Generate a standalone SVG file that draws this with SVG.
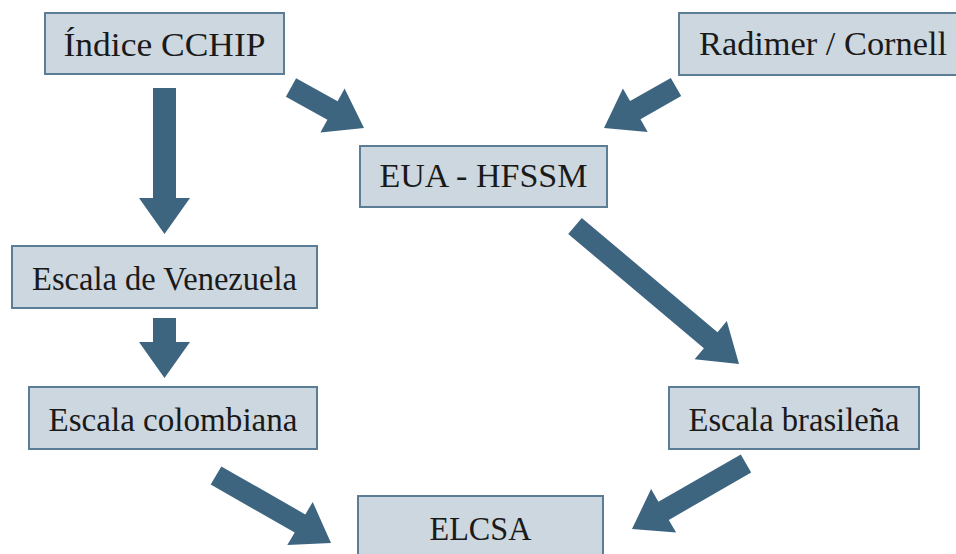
<svg xmlns="http://www.w3.org/2000/svg" width="956" height="554" viewBox="0 0 956 554">
<style>
.box{fill:#cdd7df;stroke:#5b7d95;stroke-width:2}
.lbl{font-family:"Liberation Serif","Times New Roman",serif;font-size:33px;fill:#1a1a1a;text-anchor:middle}
.arr{fill:#3e6580}
</style>
<rect width="956" height="554" fill="#ffffff"/>
<g id="connectors">
<polygon class="arr" points="285.9,96.7 327.4,119.7 320.4,132.4 364,128 344.6,88.6 337.6,101.3 296.1,78.3"/>
<polygon class="arr" points="670.8,77.9 630.1,101.1 622.9,88.5 604,128 647.7,131.9 640.5,119.3 681.2,96.1"/>
<polygon class="arr" points="153,88 176,88 176,198 190,198 164.5,234 139,198 153,198"/>
<polygon class="arr" points="153,318 176,318 176,342 190,342 164.5,378 139,342 153,342"/>
<polygon class="arr" points="568.2,234 703.9,348.2 694.6,359.3 739,364 726.8,321.1 717.5,332.2 581.8,218"/>
<polygon class="arr" points="210.7,484.6 294.7,532.6 287.3,545.1 331,543 312.7,501.9 305.3,514.4 221.3,466.4"/>
<polygon class="arr" points="740.8,454.4 658.4,501.7 651.1,489.1 632,529 676.1,532.5 668.8,519.9 751.2,472.6"/>
</g>
<g id="n-cchip"><rect class="box" x="45" y="13" width="239" height="61"/><text class="lbl" x="164.5" y="56" textLength="202" lengthAdjust="spacingAndGlyphs">Índice CCHIP</text></g>
<g id="n-radimer"><rect class="box" x="679" y="13" width="300" height="62"/><text class="lbl" x="699" y="55" style="text-anchor:start" textLength="248" lengthAdjust="spacingAndGlyphs">Radimer / Cornell</text></g>
<g id="n-eua"><rect class="box" x="360" y="146" width="247" height="61"/><text class="lbl" x="483.5" y="187" textLength="208" lengthAdjust="spacingAndGlyphs">EUA - HFSSM</text></g>
<g id="n-venezuela"><rect class="box" x="12" y="246" width="305" height="62"/><text class="lbl" x="164.5" y="290" textLength="265" lengthAdjust="spacingAndGlyphs">Escala de Venezuela</text></g>
<g id="n-colombiana"><rect class="box" x="29" y="387" width="288" height="62"/><text class="lbl" x="173" y="431" textLength="249" lengthAdjust="spacingAndGlyphs">Escala colombiana</text></g>
<g id="n-brasilena"><rect class="box" x="669" y="387" width="250" height="62"/><text class="lbl" x="794" y="431" textLength="211" lengthAdjust="spacingAndGlyphs">Escala brasileña</text></g>
<g id="n-elcsa"><rect class="box" x="358" y="496" width="245" height="70"/><text class="lbl" x="480.5" y="540" textLength="102" lengthAdjust="spacingAndGlyphs">ELCSA</text></g>
</svg>
